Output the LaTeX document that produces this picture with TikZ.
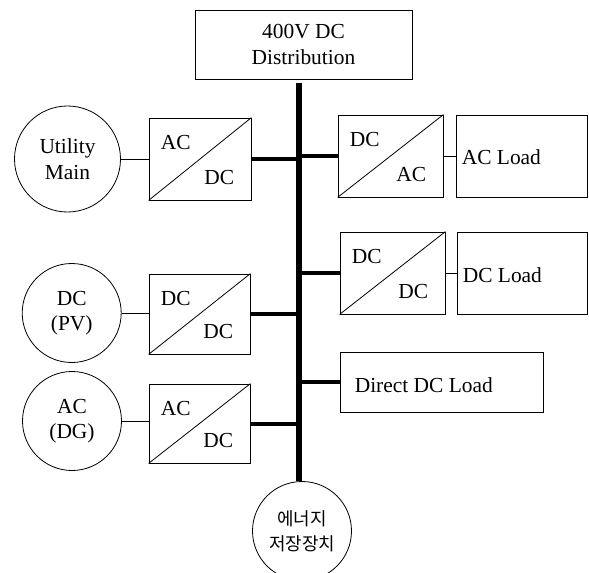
\documentclass[tikz,border=0pt]{standalone}
\usepackage{fontspec}
\setmainfont{Liberation Serif}
\newfontfamily\krfont{Noto Sans CJK KR}
\usetikzlibrary{calc}
\begin{document}
\begin{tikzpicture}[x=1bp,y=-1bp,
  every node/.style={font=\fontsize{21.5}{25.5}\selectfont},
  box/.style={draw, line width=0.8bp, inner sep=0pt, align=center},
  src/.style={draw, circle, line width=0.8bp, inner sep=0pt, minimum size=99bp, align=center},
  thin/.style={line width=0.8bp},
  thick/.style={line width=4bp},
  busline/.style={line width=5.5bp},
  lbl/.style={inner sep=0pt}
]
\useasboundingbox (0,0) rectangle (589,573);

% distribution box
\node[box, minimum width=217bp, minimum height=69bp] (dist) at (303.5,44.5) {400V DC\\Distribution};

% sources
\node[src, minimum size=106bp] (util) at (67.5,159) {Utility\\Main};
\node[src] (pv) at (71.7,313) {DC\\(PV)};
\node[src] (dg) at (72,421) {AC\\(DG)};
\node[src, font=\krfont\fontsize{18}{25}\selectfont] (stor) at (302,531) {에너지\\저장장치};

% converters
\node[box, minimum width=102bp, minimum height=82bp] (c1) at (200,159) {};
\node[box, minimum width=101bp, minimum height=80bp] (c2) at (199.5,314) {};
\node[box, minimum width=101bp, minimum height=79bp] (c3) at (199.5,423.5) {};
\node[box, minimum width=105bp, minimum height=82bp] (r1) at (390.5,156) {};
\node[box, minimum width=105bp, minimum height=82bp] (r2) at (392.5,273) {};

\foreach \c/\a/\b in {c1/AC/DC, c2/DC/DC, c3/AC/DC, r1/DC/AC, r2/DC/DC}{
  \draw[thin] (\c.south west) -- (\c.north east);
  \node[lbl, anchor=base west] (\c-in) at ($(\c.north west)+(12,32)$) {\a};
  \node[lbl, anchor=base east] (\c-out) at ($(\c.south east)+(-17,-16)$) {\b};
}

% loads
\node[box, minimum width=131bp, minimum height=82bp] (acl) at (521.5,156) {};
\node[lbl, anchor=base west] (acl-t) at ($(acl.west)+(6,9)$) {AC Load};
\node[box, minimum width=130bp, minimum height=82bp] (dcl) at (522,273) {};
\node[lbl, anchor=base west] (dcl-t) at ($(dcl.west)+(6,9)$) {DC Load};
\node[box, minimum width=203bp, minimum height=60bp] (ddc) at (441.5,382) {};
\node[lbl, anchor=base west] (ddc-t) at ($(ddc.west)+(15,10)$) {Direct DC Load};

% bus
\coordinate (bustop) at (299,83);
\draw[busline] (bustop) -- (bustop |- stor.north);

% thick branches
\foreach \n/\s in {c1/east, c2/east, c3/east, r1/west, r2/west, ddc/west}{
  \draw[thick] (\n.\s) -- (\n.\s -| bustop);
}

% thin connectors
\draw[thin] (util.east) -- (util.east -| c1.west);
\draw[thin] (pv.east) -- (pv.east -| c2.west);
\draw[thin] (dg.east) -- (dg.east -| c3.west);
\draw[thin] (r1.east) -- (acl.west);
\draw[thin] (r2.east) -- (dcl.west);
\end{tikzpicture}
\end{document}
